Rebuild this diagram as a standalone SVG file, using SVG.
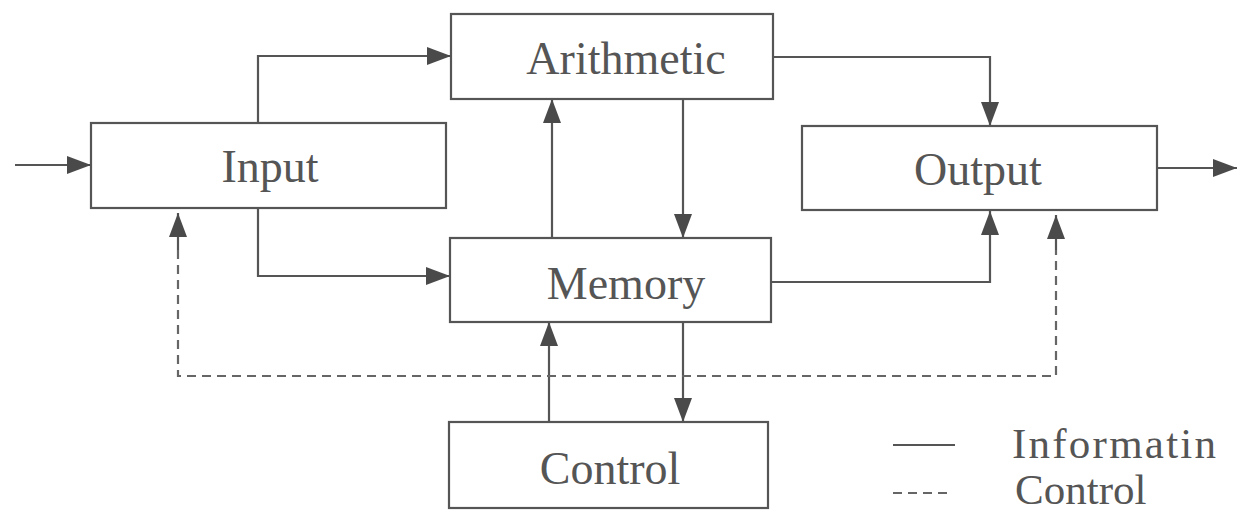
<svg xmlns="http://www.w3.org/2000/svg" width="1243" height="512" viewBox="0 0 1243 512">
<style>
.box{fill:#fff;stroke:#555;stroke-width:2.2}
.lbl{font-family:"Liberation Serif","DejaVu Serif",serif;font-size:46px;fill:#555;text-anchor:middle}
.leg{font-family:"Liberation Serif","DejaVu Serif",serif;font-size:43px;fill:#555}
.c{fill:none;stroke:#555;stroke-width:2.2}
.d{fill:none;stroke:#666;stroke-width:2.2;stroke-dasharray:9 6}
</style>
<defs>
<marker id="ah" markerUnits="userSpaceOnUse" markerWidth="26" markerHeight="20" refX="24" refY="9" orient="auto">
<path d="M0,0 L24,9 L0,18 z" fill="#4a4a4a"/>
</marker>
</defs>
<rect width="1243" height="512" fill="#fff"/>
<g id="connectors">
<path class="c" d="M15,165 H91" marker-end="url(#ah)"/>
<path class="c" d="M258,123 V56 H451" marker-end="url(#ah)"/>
<path class="c" d="M258,208 V276 H450" marker-end="url(#ah)"/>
<path class="c" d="M552,238 V99" marker-end="url(#ah)"/>
<path class="c" d="M683,99 V238" marker-end="url(#ah)"/>
<path class="c" d="M773,57 H990 V126" marker-end="url(#ah)"/>
<path class="c" d="M1157,168 H1237" marker-end="url(#ah)"/>
<path class="c" d="M771,282 H990 V211" marker-end="url(#ah)"/>
<path class="c" d="M549,422 V322" marker-end="url(#ah)"/>
<path class="c" d="M683,322 V422" marker-end="url(#ah)"/>
<path class="d" d="M178,250 V376 H1056 V250"/>
<path class="c" d="M178,250 V213" marker-end="url(#ah)"/>
<path class="c" d="M1056,250 V215" marker-end="url(#ah)"/>
</g>
<g id="input"><rect class="box" x="91" y="123" width="355" height="85"/><text class="lbl" x="270" y="182">Input</text></g>
<g id="arithmetic"><rect class="box" x="451" y="14" width="322" height="85"/><text class="lbl" x="626" y="74">Arithmetic</text></g>
<g id="output"><rect class="box" x="802" y="126" width="355" height="84"/><text class="lbl" x="978" y="185">Output</text></g>
<g id="memory"><rect class="box" x="450" y="238" width="321" height="84"/><text class="lbl" x="626" y="299">Memory</text></g>
<g id="control"><rect class="box" x="449" y="422" width="319" height="86"/><text class="lbl" x="610" y="484">Control</text></g>
<g id="legend">
<line class="c" x1="893" y1="445" x2="955" y2="445"/>
<text class="leg" x="1012" y="458" textLength="204">Informatin</text>
<line class="d" x1="893" y1="493" x2="952" y2="493" stroke-dasharray="7 5"/>
<text class="leg" x="1015" y="504">Control</text>
</g>
</svg>
